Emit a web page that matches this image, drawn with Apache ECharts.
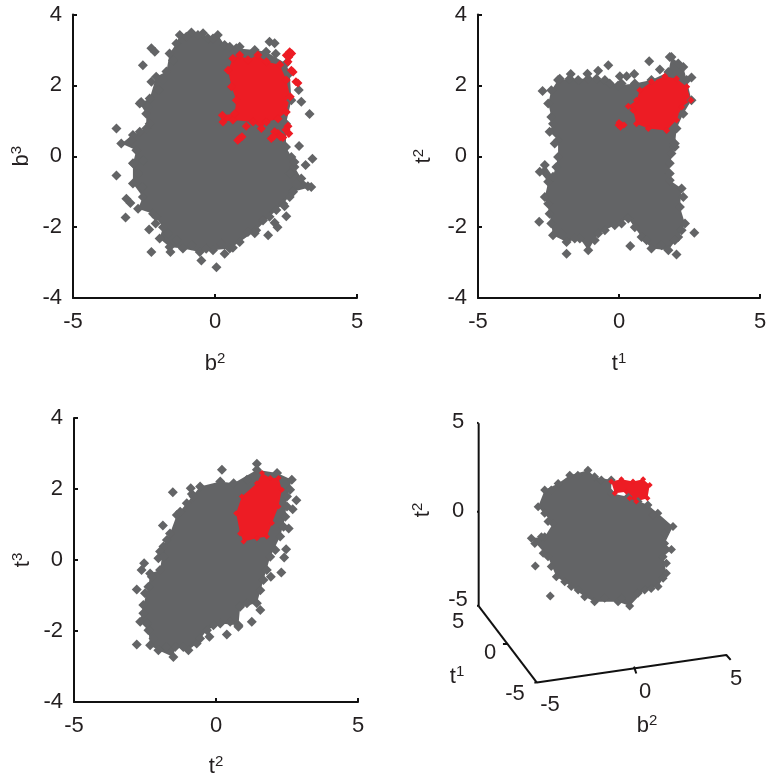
<!DOCTYPE html>
<html><head><meta charset="utf-8">
<style>html,body{margin:0;padding:0;background:#fff}#c{width:776px;height:783px}</style>
<script src="https://cdn.jsdelivr.net/npm/echarts@6/dist/echarts.min.js"></script></head>
<body><div id="c"></div>
<script>
const xTicks=[-5,0,5], yTicks=[-4,-2,0,2,4];
const grayEdge1=[[-1.24,3.42],[-0.83,3.49],[-0.42,3.47],[-0.25,3.33],[0.1,3.42],[0.34,3.14],[0.75,3.05],[1.4,3.0],[1.8,2.95],[2.5,2.62],[2.63,2.34],[2.69,1.58],[2.5,0.92],[2.5,0.26],[2.69,-0.02],[2.8,-0.3],[3.04,-0.63],[3.39,-0.87],[2.75,-1.0],[2.4,-1.34],[1.92,-1.71],[1.45,-2.09],[0.87,-2.42],[0.52,-2.6],[-0.07,-2.65],[-0.54,-2.7],[-1.13,-2.6],[-1.6,-2.56],[-1.95,-2.32],[-1.83,-2.0],[-2.18,-1.62],[-2.71,-1.48],[-2.54,-1.15],[-2.89,-0.77],[-2.89,-0.2],[-2.77,0.17],[-3.3,0.36],[-2.89,0.6],[-2.42,0.78],[-2.42,1.2],[-2.65,1.49],[-2.3,1.63],[-2.07,2.24],[-1.71,2.39],[-1.6,2.9],[-1.36,3.18]];
const grayOut1=[[-3.47,0.78],[-3.47,-0.54],[-3.15,-1.73],[-3.12,-1.2],[-2.98,-1.32],[-2.54,2.57],[-2.24,3.05],[-2.12,2.95],[-2.24,2.1],[-2.0,1.87],[-2.6,1.53],[-2.24,-2.7],[-1.57,-2.7],[-0.48,-2.94],[0.05,-3.13],[0.34,-2.75],[0.63,-2.58],[-2.32,-2.07],[-2.09,-1.9],[1.87,-2.23],[1.4,-2.17],[2.1,-1.88],[2.2,-2.0],[2.51,-1.69],[2.45,-1.41],[3.27,-0.85],[3.19,-0.25],[3.43,-0.07],[2.96,0.29],[2.8,-0.16],[3.33,1.19],[3.04,1.54],[2.95,1.87],[1.92,3.23],[2.1,3.19],[2.14,2.89],[0.87,3.09],[-2.86,-0.21],
[-2.07,-1.71],[-1.65,-2.18],[-1.36,-2.37],[-0.83,-2.51],[-0.31,-2.61],[0.22,-2.47],[1.16,-2.14],[1.69,-1.81],[2.16,-1.52],[2.63,-1.15],[2.86,-0.77],[2.63,-0.49],[-2.54,-0.87],[-2.71,-0.49],[-2.54,-0.11],[-2.95,0.45],[-2.65,0.69],[-2.3,0.92],[-2.36,1.39],[-1.83,2.15],[-1.48,2.71],[-1.01,3.37],[-0.6,3.42],[-0.07,3.32],[0.52,3.09]];
const redEdge1=[[0.63,2.76],[0.87,2.86],[1.16,2.72],[1.51,2.86],[1.81,2.67],[2.28,2.58],[2.51,2.15],[2.65,1.68],[2.51,1.25],[2.22,1.06],[1.81,0.97],[1.63,0.78],[1.34,0.97],[0.63,1.02],[0.28,0.97],[0.26,1.16],[0.69,1.2],[0.75,1.58],[0.58,1.96],[0.46,2.43]];
const redOut1=[[1.1,0.85],[0.87,0.5],[1.98,0.5],[2.22,0.64],[2.57,0.85],[2.6,0.64],[2.39,0.53],[2.92,2.07],[2.69,2.43],[2.57,2.67],[2.63,2.95],[2.51,2.85],[2.1,0.69],[2.75,2.38],[2.5,0.75],[2.3,0.55],[2.05,0.55],[0.95,0.55],[0.8,0.45],[2.85,2.1],[2.6,2.8],[2.7,2.9]];
const grayEdge2=[[-2.16,2.15],[-1.75,2.19],[-1.09,2.19],[-0.5,2.15],[-0.03,2.0],[0.56,2.05],[1.15,2.15],[1.75,2.38],[1.86,2.8],[2.28,2.52],[2.4,2.15],[2.57,1.58],[2.28,1.2],[2.04,0.78],[1.98,0.26],[1.8,-0.2],[1.8,-0.68],[2.22,-0.91],[2.16,-1.43],[2.34,-1.9],[2.1,-2.28],[1.75,-2.65],[1.15,-2.6],[0.8,-2.28],[0.33,-1.76],[-0.15,-1.95],[-0.74,-2.18],[-1.09,-2.65],[-1.39,-2.32],[-1.86,-2.42],[-2.34,-2.23],[-2.46,-1.62],[-2.63,-1.15],[-2.51,-0.72],[-2.81,-0.44],[-2.63,-0.25],[-2.34,-0.58],[-2.16,-0.02],[-2.16,0.45],[-2.46,0.69],[-2.34,0.92],[-2.51,1.49],[-2.4,1.86]];
const grayOut2=[[-2.71,1.84],[-2.83,-1.85],[-1.86,-2.75],[0.4,-2.53],[2.67,-2.16],[2.04,-2.77],[1.07,2.68],[-0.38,2.57],[1.45,2.45],[-0.74,2.41],[-1.12,2.33],[-1.71,2.32],[-2.1,2.19],[0.03,2.26],[0.54,2.32],[0.27,2.26],[2.57,2.22],[1.8,2.8],[2.1,2.62],[1.98,0.36],
[-2.4,1.11],[-2.28,0.36],[-2.22,-0.3],[-2.51,-1.34],[-2.4,-1.9],[-2.04,-2.18],[-1.57,-2.32],[-0.86,-2.37],[-0.5,-2.09],[0.09,-1.9],[0.56,-2.0],[0.98,-2.37],[1.51,-2.51],[1.98,-2.37],[2.22,-2.09],[2.28,-1.15],[1.86,0.08],[1.8,-0.49],[0.09,2.05],[-0.8,2.19],[-1.45,2.15],[-0.33,2.05]];
const redEdge2=[[1.15,2.1],[1.63,2.26],[2.04,2.19],[2.4,1.96],[2.55,1.58],[2.22,1.39],[2.04,1.02],[1.69,0.73],[1.04,0.78],[0.62,0.92],[0.5,1.3],[0.33,1.41],[0.62,1.58],[0.74,1.86]];
const redOut2=[[0.09,0.89],[-0.03,0.88],[0.0,0.95],[0.05,0.82],[0.18,0.88]];
const grayEdge3=[[-1.03,1.6],[-0.56,2.07],[0.15,2.21],[0.62,2.16],[1.44,2.54],[2.15,2.45],[2.67,2.26],[2.5,1.79],[2.44,1.22],[2.26,0.66],[1.91,0.09],[1.67,-0.56],[1.44,-1.22],[0.85,-1.32],[0.79,-1.84],[0.15,-1.79],[-0.32,-1.98],[-0.68,-2.35],[-0.97,-2.54],[-1.44,-2.45],[-1.5,-2.73],[-2.03,-2.54],[-2.32,-2.4],[-2.38,-1.98],[-2.67,-1.74],[-2.56,-1.27],[-2.38,-0.75],[-2.32,-0.38],[-1.97,-0.28],[-1.85,0.38],[-1.62,0.75],[-1.38,1.27]];
const grayOut3=[[-2.79,-2.38],[-2.79,-0.83],[-2.62,-0.28],[-2.53,-0.09],[-1.97,0.24],[-2.03,0.05],[-1.87,0.97],[-1.52,1.91],[-0.89,2.02],[-0.85,1.86],[0.21,2.54],[1.44,2.71],[2.83,1.68],[2.7,1.43],[2.56,0.89],[2.47,0.3],[2.4,0.07],[2.3,-0.35],[1.93,-0.47],[1.56,-1.41],[1.26,-1.74],[0.38,-2.1],[-0.23,-2.16],[0.79,-1.88],
[-2.26,-0.47],[-2.5,-0.94],[-2.56,-1.5],[-2.44,-1.79],[-2.2,-2.21],[-1.73,-2.45],[-1.15,-2.45],[-0.56,-2.21],[-0.09,-1.84],[0.5,-1.74],[1.09,-1.22],[1.56,-0.85],[1.79,-0.28],[2.09,0.28],[2.38,0.94],[2.5,1.51],[2.61,1.98],[1.09,2.26],[-0.79,1.79],[-1.26,1.36],[-1.73,0.56],[-1.85,0.09]];
const redEdge3=[[1.62,2.45],[1.91,2.31],[2.2,2.31],[2.32,1.98],[2.2,1.51],[1.97,1.04],[1.79,0.66],[1.44,0.61],[0.97,0.52],[0.85,0.75],[0.71,1.32],[0.91,1.79],[1.44,2.16]];
const redOut3=[];
// panel 4: values as seen on the projection plane (0-100 across the drawing area)
const grayEdge4=[[36,80],[43.2,82],[45.8,79.5],[52.4,78.2],[52.4,73.1],[59,71.8],[66.9,68.6],[70.8,65.4],[76.8,60.3],[73.5,53.8],[76.2,51.5],[72.9,48.7],[74.2,42.3],[70.9,37.2],[65.6,35.9],[59.7,29.7],[55.1,31.4],[45.8,31.4],[41.9,33.3],[36.6,37.2],[30.7,41],[27.4,48.7],[20.8,55.8],[26.1,56.4],[29.4,61.5],[23.5,67.9],[26.1,74.4],[31.4,76.9]];
const grayOut4=[[22.4,45.1],[28.3,33.6],[48.5,78.2],[39.2,80],[28.7,74.4],[26.1,65.4],[27.4,62.2],[24.8,56.4],[25.5,50],[28.7,44.9],[34,39.1],[39.3,35.9],[49.8,32.7],[56.4,32.7],[63,34.6],[68.2,36.5],[72.9,40.4],[74.2,46.2],[73.5,57.7],[68.9,64.7],[63,69.9],[22.2,53.8]];
const redEdge4=[[52.4,77.6],[56.4,78.5],[61,77.6],[65,78.5],[67.6,76.3],[66.7,71.2],[62.3,69.9],[59.7,71.2],[58.4,73.7],[53.8,73.1]];
const redOut4=[];
const axisT2=[[0,100],[0,29.7]], axisT1=[[0,29.7],[23,0.3]], axisB2=[[23,0.3],[97.9,10.9],[99.6,9]];
const ticks4=[[[-1.8,100.6],[0,100]],[[-1.8,66],[0,66]],[[-1.8,30],[0,29.7]],[[9.6,15.1],[11.6,15.1]],[[61.4,6.4],[62.3,3.8]],[[22,0.3],[23,0.3]]];

const GRAY='#636466', RED='#ed1c24', INK='#231f20', FONT='"Liberation Sans",Arial,sans-serif';
const rich={s:{fontSize:15,fontFamily:FONT,color:INK,verticalAlign:'top',padding:[0,0,10,0]}};
const name=(b,s)=>`${b}{s|${s}}`;
const panels=[
 {l:73,t:14.5,w:284,h:283.5,xn:name('b',2),yn:name('b',3),g:grayEdge1,go:grayOut1,r:redEdge1,ro:redOut1,rs:9,xg:53,yg:39},
 {l:478,t:14.5,w:282,h:283.5,xn:name('t',1),yn:name('t',2),g:grayEdge2,go:grayOut2,r:redEdge2,ro:redOut2,rs:7,xg:53,yg:42},
 {l:74,t:418,w:284,h:284,xn:name('t',2),yn:name('t',3),g:grayEdge3,go:grayOut3,r:redEdge3,ro:redOut3,rs:6,xg:52,yg:39}
];
const grids=[],xs=[],ys=[],series=[];
function blob(i,edge,out,color,size){
 series.push({type:'custom',xAxisIndex:i,yAxisIndex:i,coordinateSystem:'cartesian2d',clip:false,silent:true,
  data:[0],renderItem:(p,api)=>({type:'polygon',shape:{points:edge.map(d=>api.coord(d))},style:{fill:color}})});
 series.push({type:'scatter',xAxisIndex:i,yAxisIndex:i,symbol:'diamond',symbolSize:size,clip:false,silent:true,
  itemStyle:{color:color,opacity:1},data:edge.concat(out)});
}
panels.forEach((p,i)=>{
 grids.push({left:p.l,top:p.t,width:p.w,height:p.h,containLabel:false});
 const line={show:true,onZero:false,lineStyle:{color:'#111',width:2}};
 const tick={show:true,inside:true,length:4,lineStyle:{color:'#111',width:2}};
 const lab={color:INK,fontSize:22,fontFamily:FONT};
 xs.push({type:'value',gridIndex:i,min:xTicks[0],max:xTicks[2],interval:5,splitLine:{show:false},axisLine:line,axisTick:tick,
  axisLabel:{...lab,margin:13},name:p.xn,nameLocation:'middle',nameGap:p.xg,nameTextStyle:{...lab,rich:{s:rich.s}}});
 ys.push({type:'value',gridIndex:i,min:yTicks[0],max:yTicks[4],interval:2,splitLine:{show:false},axisLine:line,axisTick:tick,
  axisLabel:{...lab,margin:11,padding:[6,0,0,0]},name:p.yn,nameLocation:'middle',nameGap:p.yg,nameRotate:90,nameTextStyle:{...lab,rich:{s:rich.s}}});
 blob(i,p.g,p.go,GRAY,10);
 blob(i,p.r,p.ro,RED,p.rs);
});
// panel 4
grids.push({left:478.67,top:423.33,width:253,height:260});
xs.push({type:'value',gridIndex:3,min:0,max:100,show:false});
ys.push({type:'value',gridIndex:3,min:0,max:100,show:false});
blob(3,grayEdge4,grayOut4,GRAY,9);
blob(3,redEdge4,redOut4,RED,6);
[axisT2,axisT1,axisB2,...ticks4].forEach(a=>series.push({type:'line',xAxisIndex:3,yAxisIndex:3,data:a,symbol:'none',clip:false,silent:true,
  lineStyle:{color:'#111',width:2}}));
const txt=(x,y,t,rot)=>({type:'text',x,y,rotation:rot||0,style:{text:t,fill:INK,font:'22px '+FONT,align:'center',verticalAlign:'middle',rich:{s:{...rich.s}}}});
const labels4=[[458,422,'5'],[458,511,'0'],[458,600,'-5'],[458,622,'5'],[490,653,'0'],[515,694,'-5'],[550,705,'-5'],[645,692,'0'],[736,679,'5'],[457,677,name('t',1)],[647,726,name('b',2)]];
const graphic=labels4.map(a=>txt(a[0],a[1],a[2]));
graphic.push(txt(423,510,name('t',2),Math.PI/2));
const chart=echarts.init(document.getElementById('c'),null,{renderer:'canvas'});
chart.setOption({animation:false,backgroundColor:'#fff',grid:grids,xAxis:xs,yAxis:ys,series,graphic});
</script></body></html>
